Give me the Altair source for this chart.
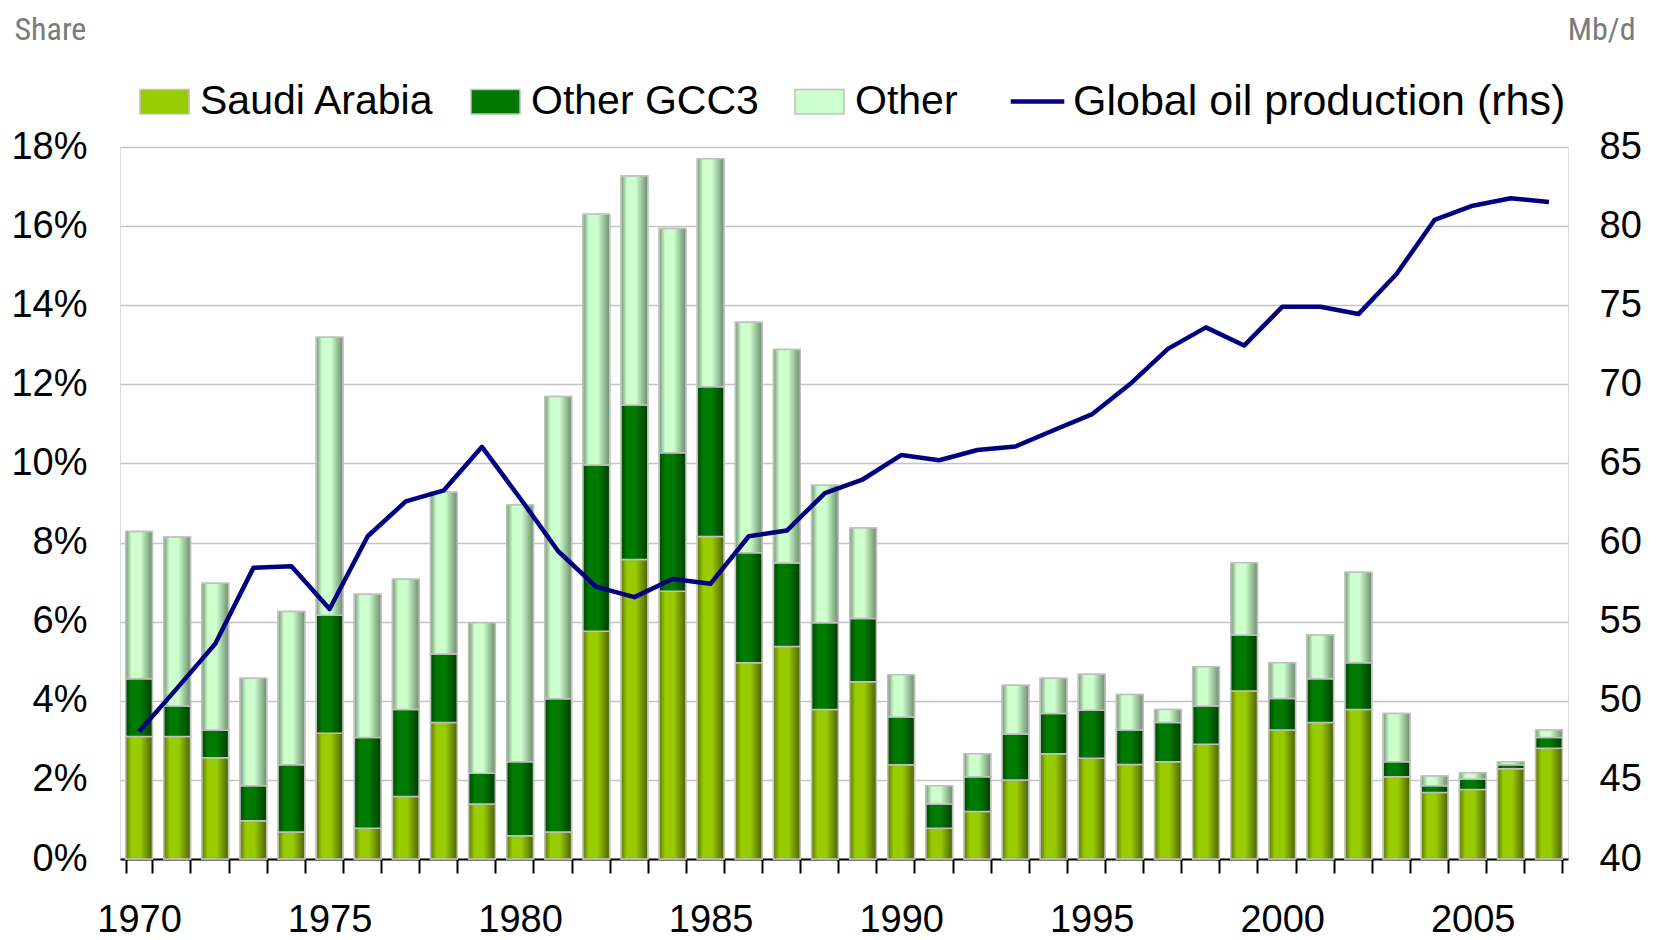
import altair as alt
import pandas as pd

# ---------------- data ----------------
years = list(range(1970, 2008))

saudi_arabia = [3.10, 3.10, 2.56, 0.97, 0.68, 3.18, 0.78, 1.58, 3.45, 1.39,
                0.59, 0.68, 5.76, 7.57, 6.77, 8.15, 4.96, 5.37, 3.78, 4.48,
                2.38, 0.78, 1.20, 2.00, 2.66, 2.55, 2.39, 2.46, 2.90, 4.25,
                3.26, 3.45, 3.78, 2.08, 1.68, 1.76, 2.28, 2.80]

other_gcc3 = [1.46, 0.77, 0.70, 0.88, 1.70, 2.98, 2.29, 2.20, 1.73, 0.78,
              1.87, 3.37, 4.20, 3.91, 3.50, 3.79, 2.78, 2.11, 2.19, 1.60,
              1.21, 0.61, 0.88, 1.16, 1.02, 1.21, 0.87, 0.99, 0.97, 1.41,
              0.80, 1.11, 1.18, 0.38, 0.17, 0.26, 0.10, 0.27]

other = [3.72, 4.27, 3.71, 2.72, 3.88, 7.03, 3.62, 3.29, 4.09, 3.80,
         6.49, 7.64, 6.34, 5.79, 5.67, 5.76, 5.83, 5.40, 3.48, 2.29,
         1.07, 0.46, 0.58, 1.23, 0.89, 0.91, 0.90, 0.33, 0.99, 1.83,
         0.90, 1.10, 2.29, 1.22, 0.25, 0.16, 0.08, 0.19]

global_production = [48.05, 50.8, 53.6, 58.4, 58.5, 55.8, 60.4, 62.6, 63.3, 66.05,
                     62.8, 59.45, 57.2, 56.55, 57.7, 57.4, 60.4, 60.76, 63.13, 64.0,
                     65.53, 65.2, 65.85, 66.07, 67.1, 68.1, 70.0, 72.24, 73.6, 72.45,
                     74.9, 74.9, 74.44, 76.97, 80.4, 81.29, 81.76, 81.53]

series_names = ["Saudi Arabia", "Other GCC3", "Other"]
series_colors = ["#99cc00", "#007700", "#ccffcc"]
line_name = "Global oil production (rhs)"

share_ticks = list(range(0, 19, 2))
prod_ticks = list(range(40, 86, 5))

# ---------------- tables ----------------
rows = []
for i, yr in enumerate(years):
    for k, (name, vals) in enumerate(zip(series_names, [saudi_arabia, other_gcc3, other])):
        rows.append({"year": yr, "series": name, "share": vals[i], "order": k})
bars_df = pd.DataFrame(rows)
line_df = pd.DataFrame({"year": years, "production": global_production,
                        "name": [line_name] * len(years)})


def grad(edge_l, mid, edge_r):
    return {"gradient": "linear", "x1": 0, "y1": 0, "x2": 1, "y2": 0,
            "stops": [{"offset": 0, "color": edge_l},
                      {"offset": 0.22, "color": mid},
                      {"offset": 0.55, "color": mid},
                      {"offset": 1, "color": edge_r}]}


grad_saudi = grad("#5e7700", "#99cc00", "#4d6200")
grad_gcc3 = grad("#004500", "#007a00", "#003d00")
grad_other = grad("#769676", "#ccffcc", "#6c8c6c")

FONT = "Liberation Sans"
NARROW = "Liberation Sans Narrow, Arial Narrow, Roboto Condensed, sans-serif"

x_enc = alt.X(
    "year:O", title=None,
    scale=alt.Scale(paddingInner=0.3, paddingOuter=0.15),
    axis=alt.Axis(
        labelExpr="datum.value % 5 === 0 ? datum.label : ''",
        labelAngle=0, tickBand="extent", ticks=True, tickSize=14,
        tickColor="black", tickWidth=2, domainColor="black", domainWidth=2,
        labelFontSize=38, labelPadding=28, grid=False, labelOverlap=False,
        labelColor="black", labelFont=FONT,
    ),
)

share_axis = alt.Axis(
    values=share_ticks, labelExpr="datum.value + '%'", orient="left",
    grid=True, gridColor="#c4c4c4", gridWidth=1.6, domain=False, ticks=False,
    labelFontSize=38, labelFont=FONT, labelColor="black", labelPadding=33,
    title="Share", titleAngle=0, titleAlign="left", titleBaseline="alphabetic",
    titleX=-106, titleY=-108, titleFont=NARROW, titleFontSize=32,
    titleFontWeight="normal", titleColor="#7a7a7a",
)

y_share = alt.Y("share:Q", stack="zero",
                scale=alt.Scale(domain=[0, 18], nice=False), axis=share_axis)

bars_legend = alt.Legend(
    title=None, orient="none", legendX=19, legendY=-71, direction="horizontal",
    symbolType="M-1,-0.5H1V0.5H-1Z", symbolSize=2401,
    symbolStrokeColor="#c0c0c0", symbolStrokeWidth=1.5, symbolOpacity=1,
    labelFontSize=41, labelFont=FONT, labelColor="black", labelOffset=10,
    columnPadding=33, padding=0, labelLimit=0,
)

bars_base = alt.Chart(bars_df).mark_bar(stroke="#c0c0c0", strokeWidth=1.5).encode(
    x=x_enc,
    y=y_share,
    color=alt.Color("series:N", sort=series_names,
                    scale=alt.Scale(domain=series_names, range=series_colors),
                    legend=bars_legend),
    order=alt.Order("order:Q", sort="ascending"),
)

bars_grad = alt.Chart(bars_df).mark_bar(stroke="#c0c0c0", strokeWidth=1.5).encode(
    x=x_enc,
    y=y_share,
    detail="series:N",
    order=alt.Order("order:Q", sort="ascending"),
    fill={"condition": [
        {"test": "datum.series === 'Saudi Arabia'", "value": grad_saudi},
        {"test": "datum.series === 'Other GCC3'", "value": grad_gcc3},
    ], "value": grad_other},
)

prod_axis = alt.Axis(
    values=prod_ticks, orient="right", grid=False, domain=False, ticks=False,
    labelFontSize=38, labelFont=FONT, labelColor="black", labelPadding=31,
    title="Mb/d", titleAngle=0, titleAlign="right", titleBaseline="alphabetic",
    titleX=67, titleY=-108, titleFont=NARROW, titleFontSize=32,
    titleFontWeight="normal", titleColor="#7a7a7a",
)

line_legend = alt.Legend(
    title=None, orient="none", legendX=888, legendY=-75, direction="horizontal",
    symbolType="stroke", symbolSize=2873, symbolStrokeWidth=4.5,
    labelFontSize=43, labelFont=FONT, labelColor="black", labelOffset=6,
    padding=0, labelLimit=0,
)

line = alt.Chart(line_df).mark_line(strokeWidth=4.5, strokeJoin="round").encode(
    x=x_enc,
    y=alt.Y("production:Q", scale=alt.Scale(domain=[40, 85], nice=False), axis=prod_axis),
    stroke=alt.Stroke("name:N", scale=alt.Scale(domain=[line_name], range=["#000080"]),
                      legend=line_legend),
)

chart = (
    alt.layer(alt.layer(bars_base, bars_grad), line)
    .resolve_scale(y="independent")
    .properties(
        width=1448, height=712,
        autosize=alt.AutoSizeParams(type="none"),
        padding={"left": 112, "top": 139, "right": 75, "bottom": 82},
    )
    .configure_view(strokeWidth=0)
    .configure(font=FONT)
)

chart.save("out.html", embed_options={"renderer": "svg", "actions": False})
